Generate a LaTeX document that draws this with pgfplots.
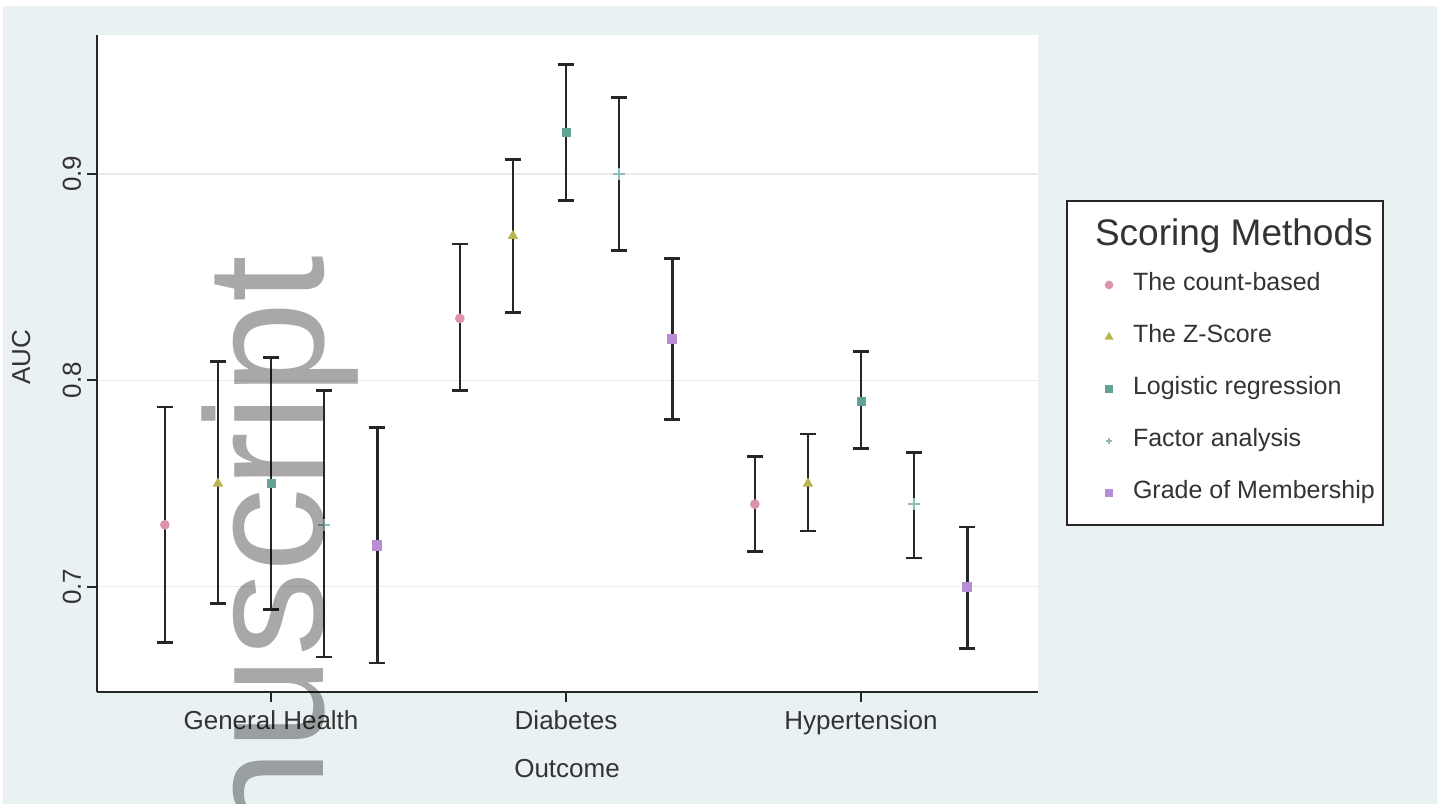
\documentclass[border=0pt]{standalone}
\usepackage{fontspec}
\setmainfont{Liberation Sans}
\usepackage{pgfplots}
\pgfplotsset{compat=1.18}
\definecolor{bgc}{HTML}{E9F1F3}
\definecolor{txt}{HTML}{333333}
\definecolor{cA}{HTML}{DE94A8}
\definecolor{cB}{HTML}{B8B450}
\definecolor{cC}{HTML}{63A395}
\definecolor{cD}{HTML}{8DBDBA}
\definecolor{cE}{HTML}{B98CD6}
\begin{document}
\begin{tikzpicture}
\useasboundingbox (0,0) rectangle (718.5pt,402pt);
\fill[white] (0,0) rectangle (718.5pt,402pt);
\fill[bgc] (1.5pt,0) rectangle (718.5pt,399pt);
\begin{axis}[
  at={(48.5pt,56pt)}, anchor=south west,
  scale only axis, width=470.5pt, height=328.5pt,
  xmin=0.41, xmax=3.60, ymin=0.649, ymax=0.9673,
  axis x line*=bottom, axis y line*=left,
  axis line style={-, line width=1.1pt, black!85},
  axis background/.style={fill=white},
  xtick={1,2,3}, xticklabels={General Health, Diabetes, Hypertension},
  ytick={0.7,0.8,0.9}, yticklabels={0.7,0.8,0.9},
  tick align=outside, major tick length=5pt,
  tick style={line width=1pt, black!85},
  ymajorgrids, grid style={line width=0.6pt, black!8},
  font=\fontsize{13}{15}\selectfont,
  tick label style={text=txt},
  xticklabel style={anchor=base, inner sep=0pt, yshift=-13.5pt},
  yticklabel style={xshift=-3pt, rotate=90, anchor=base, inner sep=0pt},
  every axis x label/.style={at={(axis description cs:0.4995,-0.1294)}, anchor=base, text=txt},
  every axis y label/.style={at={(axis description cs:-0.071,0.51)}, rotate=90, anchor=base, text=txt},
  xlabel={Outcome}, ylabel={AUC},
  error bars/error bar style={line width=1.3pt, black!85},
  error bars/error mark options={rotate=90, line width=1.3pt, mark size=4pt, black!85},
  legend style={at={(1.0298,0.7489)}, anchor=north west, draw=black!85, line width=1pt,
    fill=white, inner xsep=2pt, inner ysep=4pt, row sep=2pt,
    font=\fontsize{12.5}{14}\selectfont, text=black!80,
    nodes={inner ysep=0pt, inner xsep=2pt, text height=15pt, text depth=9pt}},
  legend cell align=left,
  legend image code/.code={\path (0pt,0pt) (28pt,0pt); \draw[#1, only marks, mark size=1.6pt] plot coordinates {(18.5pt,0pt)};},
]
\addlegendimage{empty legend}
\addlegendentry{\hspace*{-19pt}\raisebox{-3.5pt}{\fontsize{18.5}{20}\selectfont Scoring Methods}}
\addplot[only marks, mark=*, mark size=2.2pt, color=cA,
  error bars/.cd, y dir=both, y explicit]
  coordinates {
  (0.64,0.730) += (0,0.057) -= (0,0.057)
  (1.64,0.830) += (0,0.036) -= (0,0.035)
  (2.64,0.740) += (0,0.023) -= (0,0.023)
  };
\addlegendentry{The count-based}
\addplot[only marks, mark=triangle*, mark size=2.6pt, color=cB,
  error bars/.cd, y dir=both, y explicit]
  coordinates {
  (0.82,0.750) += (0,0.059) -= (0,0.058)
  (1.82,0.870) += (0,0.037) -= (0,0.037)
  (2.82,0.750) += (0,0.024) -= (0,0.023)
  };
\addlegendentry{The Z-Score}
\addplot[only marks, mark=square*, mark size=2pt, color=cC,
  error bars/.cd, y dir=both, y explicit]
  coordinates {
  (1.00,0.750) += (0,0.061) -= (0,0.061)
  (2.00,0.920) += (0,0.033) -= (0,0.033)
  (3.00,0.790) += (0,0.024) -= (0,0.023)
  };
\addlegendentry{Logistic regression}
\addplot[only marks, mark=+, mark size=3pt, mark options={line width=0.8pt}, color=cD,
  error bars/.cd, y dir=both, y explicit]
  coordinates {
  (1.18,0.730) += (0,0.065) -= (0,0.064)
  (2.18,0.900) += (0,0.037) -= (0,0.037)
  (3.18,0.740) += (0,0.025) -= (0,0.026)
  };
\addlegendentry{Factor analysis}
\addplot[only marks, mark=square*, mark size=2.3pt, color=cE,
  error bars/.cd, y dir=both, y explicit]
  coordinates {
  (1.36,0.720) += (0,0.057) -= (0,0.057)
  (2.36,0.820) += (0,0.039) -= (0,0.039)
  (3.36,0.700) += (0,0.029) -= (0,0.030)
  };
\addlegendentry{Grade of Membership}
\end{axis}
\node[rotate=90, anchor=base east, inner sep=0pt, font=\fontsize{84}{84}\selectfont,
  text=black, text opacity=0.34] at (161.5pt,274.5pt) {manuscript};
\end{tikzpicture}
\end{document}
